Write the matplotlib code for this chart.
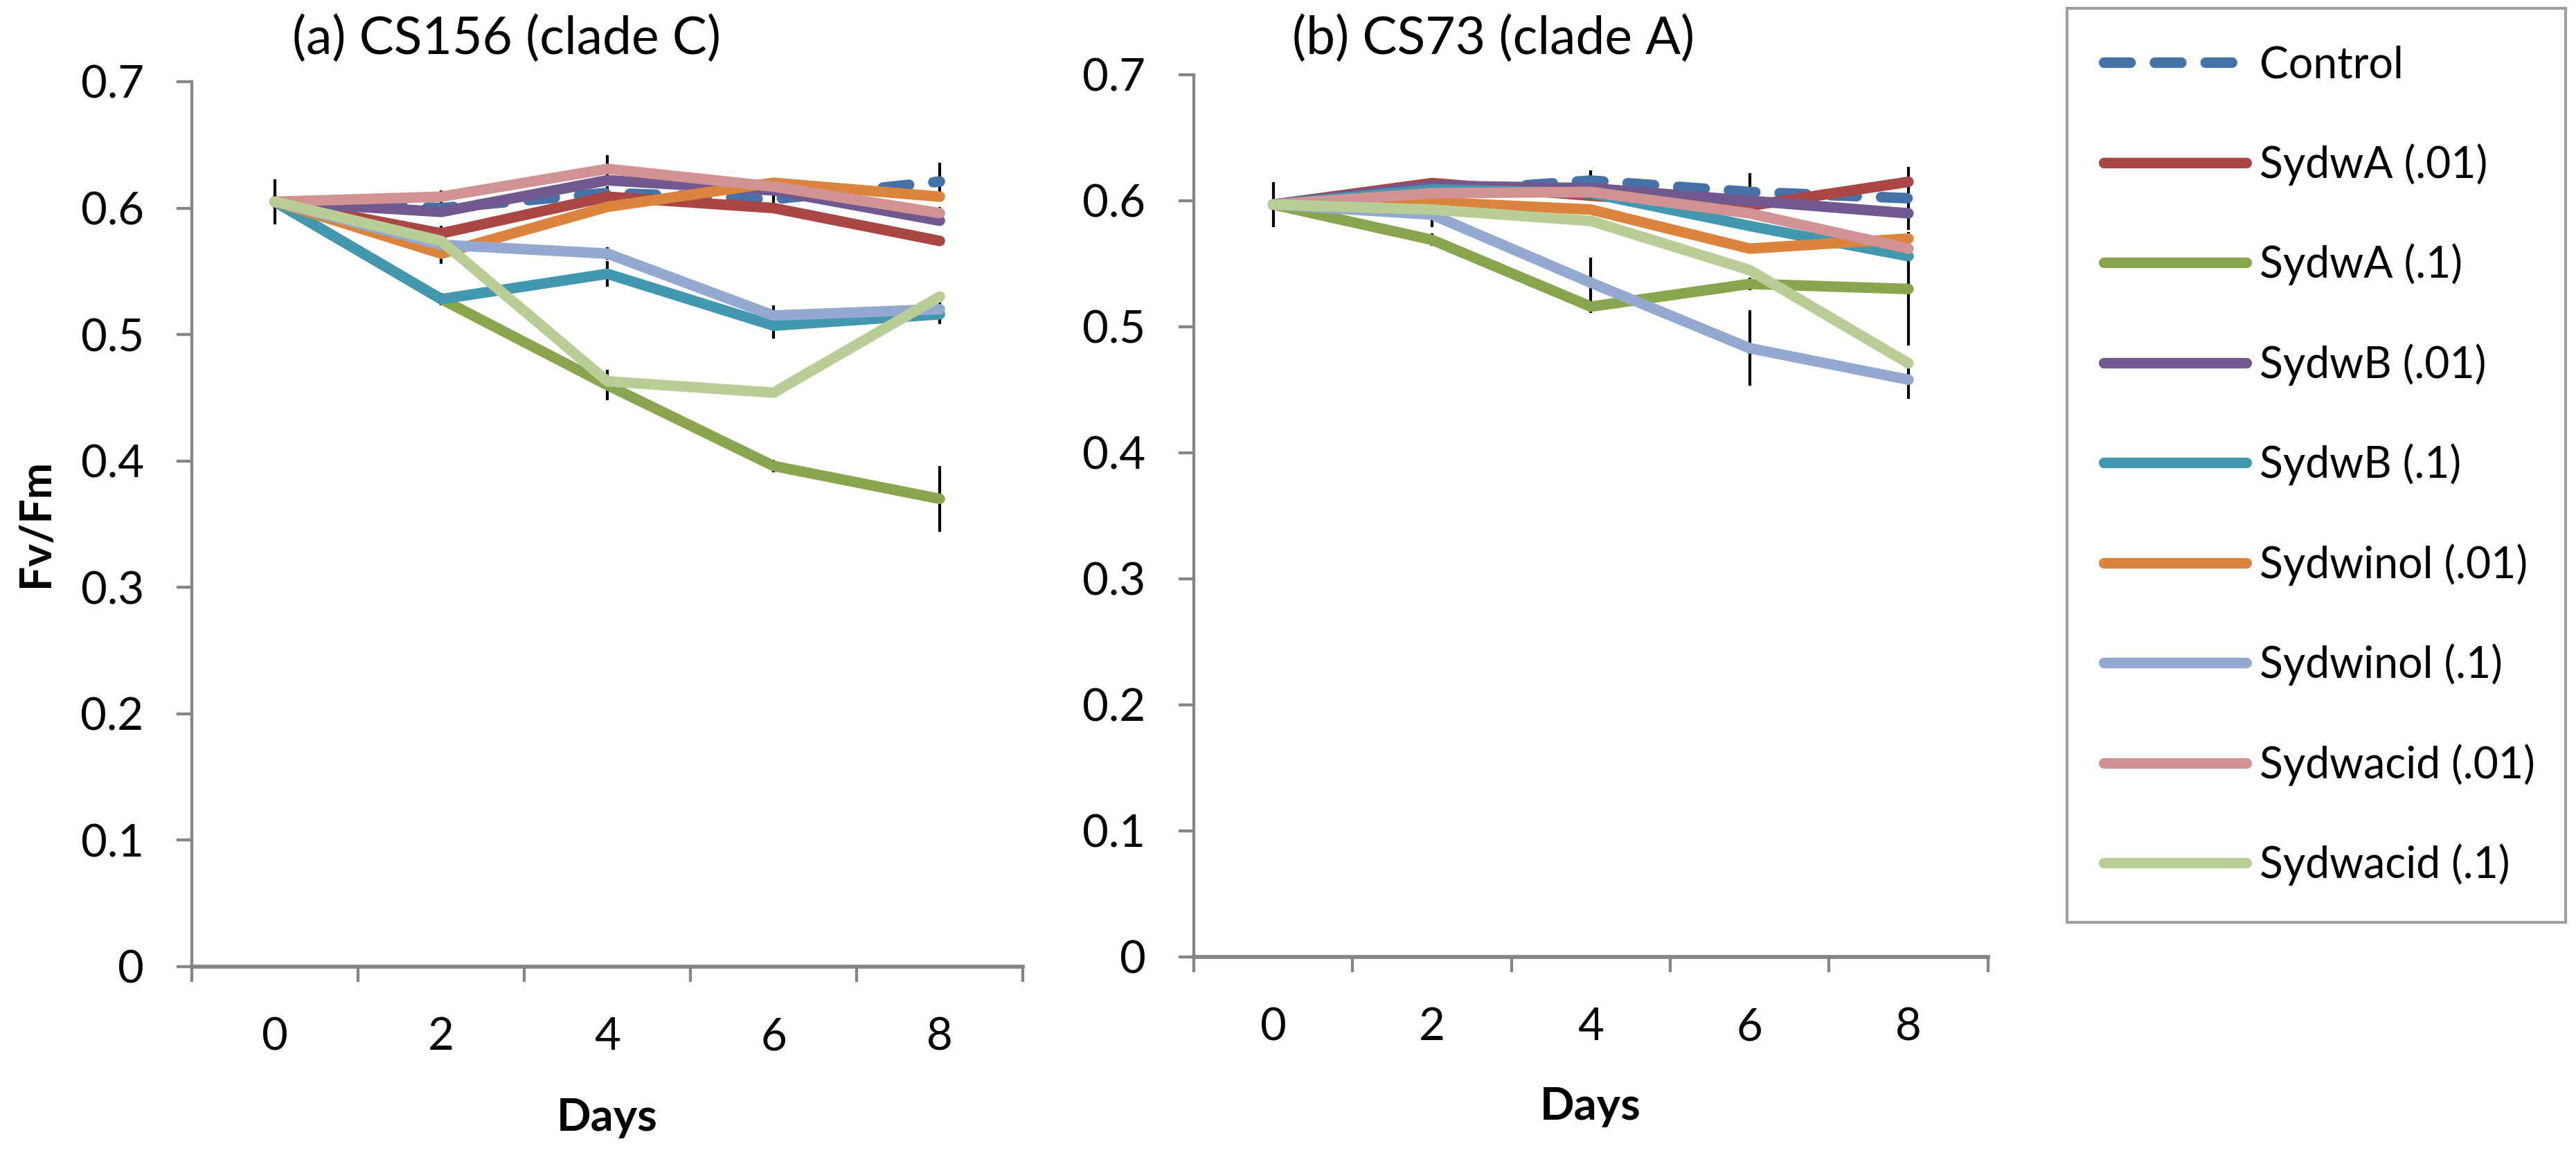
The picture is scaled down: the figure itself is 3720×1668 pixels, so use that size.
import matplotlib
matplotlib.use("Agg")
import matplotlib.pyplot as plt

plt.rcParams['font.family'] = ['Lato', 'DejaVu Sans']

# Dados
days = ["0", "2", "4", "6", "8"]
series_names = ["Control", "SydwA (.01)", "SydwA (.1)", "SydwB (.01)", "SydwB (.1)",
                "Sydwinol (.01)", "Sydwinol (.1)", "Sydwacid (.01)", "Sydwacid (.1)"]
series_colors = ["#4572A7", "#AA4643", "#89A54E", "#71588F", "#4198AF",
                 "#DB843D", "#93A9CF", "#D19392", "#B9CD96"]

# (a) CS156 (clade C)
cs156_control = [0.605, 0.600, 0.612, 0.607, 0.621]
cs156_sydwa_01 = [0.605, 0.580, 0.609, 0.600, 0.574]
cs156_sydwa_1 = [0.605, 0.528, 0.460, 0.396, 0.370]
cs156_sydwb_01 = [0.605, 0.597, 0.622, 0.614, 0.590]
cs156_sydwb_1 = [0.605, 0.528, 0.548, 0.507, 0.516]
cs156_sydwinol_01 = [0.605, 0.564, 0.601, 0.620, 0.609]
cs156_sydwinol_1 = [0.605, 0.571, 0.564, 0.515, 0.520]
cs156_sydwacid_01 = [0.605, 0.609, 0.631, 0.617, 0.596]
cs156_sydwacid_1 = [0.605, 0.574, 0.463, 0.454, 0.530]

cs156_err_control = [0.018, 0.005, 0.005, 0.008, 0.015]
cs156_err_sydwa_1 = [0.005, 0.005, 0.012, 0.005, 0.026]
cs156_err_sydwb_1 = [0.005, 0.005, 0.010, 0.010, 0.005]
cs156_err_sydwinol_1 = [0.005, 0.015, 0.005, 0.008, 0.012]
cs156_err_sydwacid_01 = [0.005, 0.005, 0.011, 0.005, 0.005]

# (b) CS73 (clade A)
cs73_control = [0.597, 0.607, 0.616, 0.607, 0.602]
cs73_sydwa_01 = [0.597, 0.614, 0.604, 0.596, 0.615]
cs73_sydwa_1 = [0.597, 0.569, 0.516, 0.534, 0.530]
cs73_sydwb_01 = [0.597, 0.612, 0.610, 0.600, 0.590]
cs73_sydwb_1 = [0.597, 0.609, 0.606, 0.580, 0.556]
cs73_sydwinol_01 = [0.597, 0.599, 0.593, 0.562, 0.570]
cs73_sydwinol_1 = [0.597, 0.589, 0.535, 0.483, 0.458]
cs73_sydwacid_01 = [0.597, 0.606, 0.607, 0.590, 0.562]
cs73_sydwacid_1 = [0.597, 0.593, 0.584, 0.545, 0.471]

cs73_err_control = [0.018, 0.005, 0.008, 0.015, 0.025]
cs73_err_sydwa_1 = [0.005, 0.005, 0.005, 0.005, 0.045]
cs73_err_sydwinol_1 = [0.005, 0.010, 0.020, 0.030, 0.015]

yticks = [0, 0.1, 0.2, 0.3, 0.4, 0.5, 0.6, 0.7]
ytick_labels = ["0", "0.1", "0.2", "0.3", "0.4", "0.5", "0.6", "0.7"]

panels = [
    {
        "rect": [0.0745, 0.1631, 0.3226, 0.7662],
        "values": [cs156_control, cs156_sydwa_01, cs156_sydwa_1, cs156_sydwb_01, cs156_sydwb_1,
                   cs156_sydwinol_01, cs156_sydwinol_1, cs156_sydwacid_01, cs156_sydwacid_1],
        "errors": [(cs156_control, cs156_err_control), (cs156_sydwa_1, cs156_err_sydwa_1),
                   (cs156_sydwb_1, cs156_err_sydwb_1), (cs156_sydwinol_1, cs156_err_sydwinol_1),
                   (cs156_sydwacid_01, cs156_err_sydwacid_01)],
    },
    {
        "rect": [0.4634, 0.1715, 0.3083, 0.7638],
        "values": [cs73_control, cs73_sydwa_01, cs73_sydwa_1, cs73_sydwb_01, cs73_sydwb_1,
                   cs73_sydwinol_01, cs73_sydwinol_1, cs73_sydwacid_01, cs73_sydwacid_1],
        "errors": [(cs73_control, cs73_err_control), (cs73_sydwa_1, cs73_err_sydwa_1),
                   (cs73_sydwinol_1, cs73_err_sydwinol_1)],
    },
]

gray = "#868686"
fig = plt.figure(figsize=(37.2, 16.68), dpi=100)

handles = []
for p in panels:
    ax = fig.add_axes(p["rect"])
    x = list(range(len(days)))

    # barras de erro (atras das linhas)
    for vals, errs in p["errors"]:
        lo = [v - e for v, e in zip(vals, errs)]
        hi = [v + e for v, e in zip(vals, errs)]
        ax.vlines(x, lo, hi, colors="black", linewidth=3, zorder=1)

    hs = []
    for i, (vals, name, col) in enumerate(zip(p["values"], series_names, series_colors)):
        if i == 0:
            ln, = ax.plot(x, vals, color=col, lw=11, linestyle=(0, (2.5, 2.3)),
                          dash_capstyle="round", solid_joinstyle="round", label=name, zorder=2 + i)
        else:
            ln, = ax.plot(x, vals, color=col, lw=11, solid_capstyle="round",
                          solid_joinstyle="round", label=name, zorder=2 + i)
        hs.append(ln)
    if not handles:
        handles = hs

    ax.set_xlim(-0.5, len(days) - 0.5)
    ax.set_ylim(0, 0.7)
    ax.set_yticks(yticks)
    ax.set_yticklabels(ytick_labels)
    ax.set_xticks(x)
    ax.set_xticklabels(days)
    ax.set_xticks([i - 0.5 for i in range(len(days) + 1)], minor=True)

    for s in ["top", "right"]:
        ax.spines[s].set_visible(False)
    ax.spines["left"].set_color(gray)
    ax.spines["left"].set_linewidth(3.1)
    ax.spines["bottom"].set_color(gray)
    ax.spines["bottom"].set_linewidth(4.1)

    ax.tick_params(axis="y", which="major", length=16, width=3.1, color=gray,
                   pad=34, labelsize=47)
    ax.tick_params(axis="x", which="major", length=0, pad=52, labelsize=47)
    ax.tick_params(axis="x", which="minor", length=16, width=3.1, color=gray)
    ax.set_facecolor("white")

# titulos e rotulos
fig.text(731 / 3720, 1 - 78 / 1668, "(a) CS156 (clade C)", ha="center", va="baseline", fontsize=54)
fig.text(2157 / 3720, 1 - 78 / 1668, "(b) CS73 (clade A)", ha="center", va="baseline", fontsize=54)
fig.text(52 / 3720, 1 - 755 / 1668, "Fv/Fm", rotation=90, ha="center", va="center",
         fontsize=45, fontweight="bold")
fig.text(877 / 3720, 1 - 1633 / 1668, "Days", ha="center", va="baseline", fontsize=47, fontweight="bold")
fig.text(2297 / 3720, 1 - 1617 / 1668, "Days", ha="center", va="baseline", fontsize=47, fontweight="bold")

leg = fig.legend(handles, series_names, loc="upper left",
                 bbox_to_anchor=(2985 / 3720, 1 - 12 / 1668, 720 / 3720, 0), mode="expand",
                 fontsize=45, frameon=True, fancybox=False, borderpad=0.85,
                 handlelength=3.3, handletextpad=0.3, labelspacing=1.34, borderaxespad=0)
leg.get_frame().set_edgecolor(gray)
leg.get_frame().set_linewidth(3)

fig.savefig("out.png", dpi=100, facecolor="white")
